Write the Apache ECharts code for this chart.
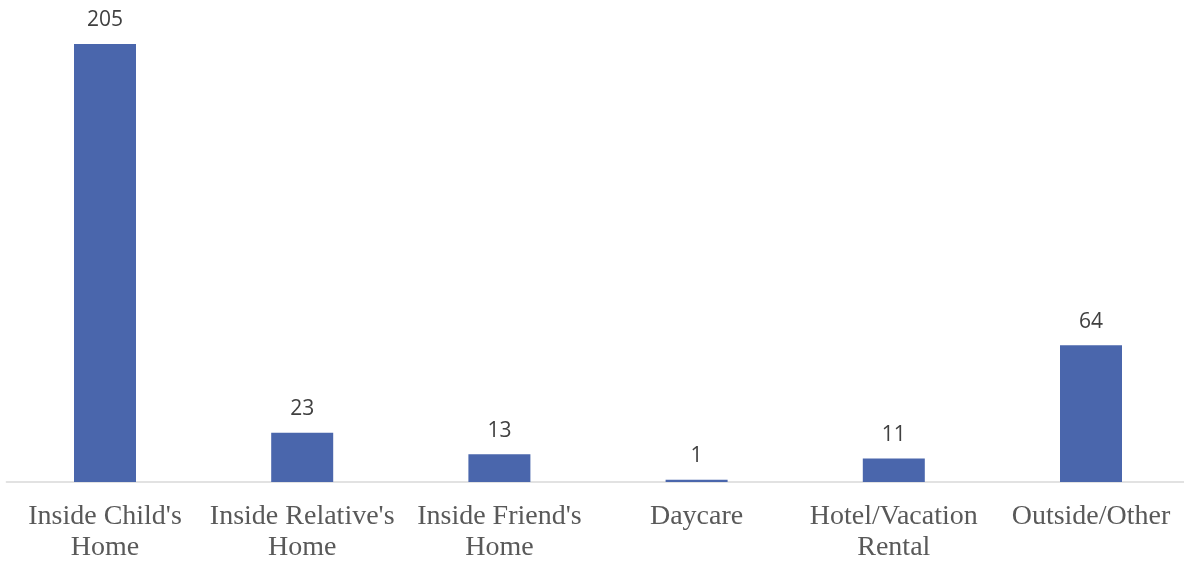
<!DOCTYPE html>
<html><head><meta charset="utf-8">
<script src="https://cdn.jsdelivr.net/npm/echarts@6/dist/echarts.min.js"></script>
<style>html,body{margin:0;padding:0;background:#fff}#c{width:1184px;height:563px}</style>
</head><body><div id="c"></div>
<script>
const categories = ["Inside Child's\nHome", "Inside Relative's\nHome", "Inside Friend's\nHome", "Daycare", "Hotel/Vacation\nRental", "Outside/Other"];
const values = [205, 23, 13, 1, 11, 64];

const chart = echarts.init(document.getElementById('c'));
chart.setOption({
  animation: false,
  grid: { left: 6.4, width: 1183.2, top: 44, bottom: 81, containLabel: false, outerBoundsMode: 'none' },
  xAxis: {
    type: 'category', data: categories,
    axisLine: { lineStyle: { color: '#d9d9d9', width: 1.5 } },
    axisTick: { show: false },
    axisLabel: { fontFamily: 'Liberation Serif', fontSize: 28, color: '#595959', lineHeight: 31, margin: 19, interval: 0 }
  },
  yAxis: { type: 'value', min: 0, max: 205, show: false, splitLine: { show: false } },
  series: [{
    type: 'bar', data: values, barWidth: 62,
    itemStyle: { color: '#4a66ac' },
    label: { show: true, position: 'top', distance: 13, fontFamily: 'Open Sans', fontSize: 21, color: '#404040' }
  }]
});
</script></body></html>
